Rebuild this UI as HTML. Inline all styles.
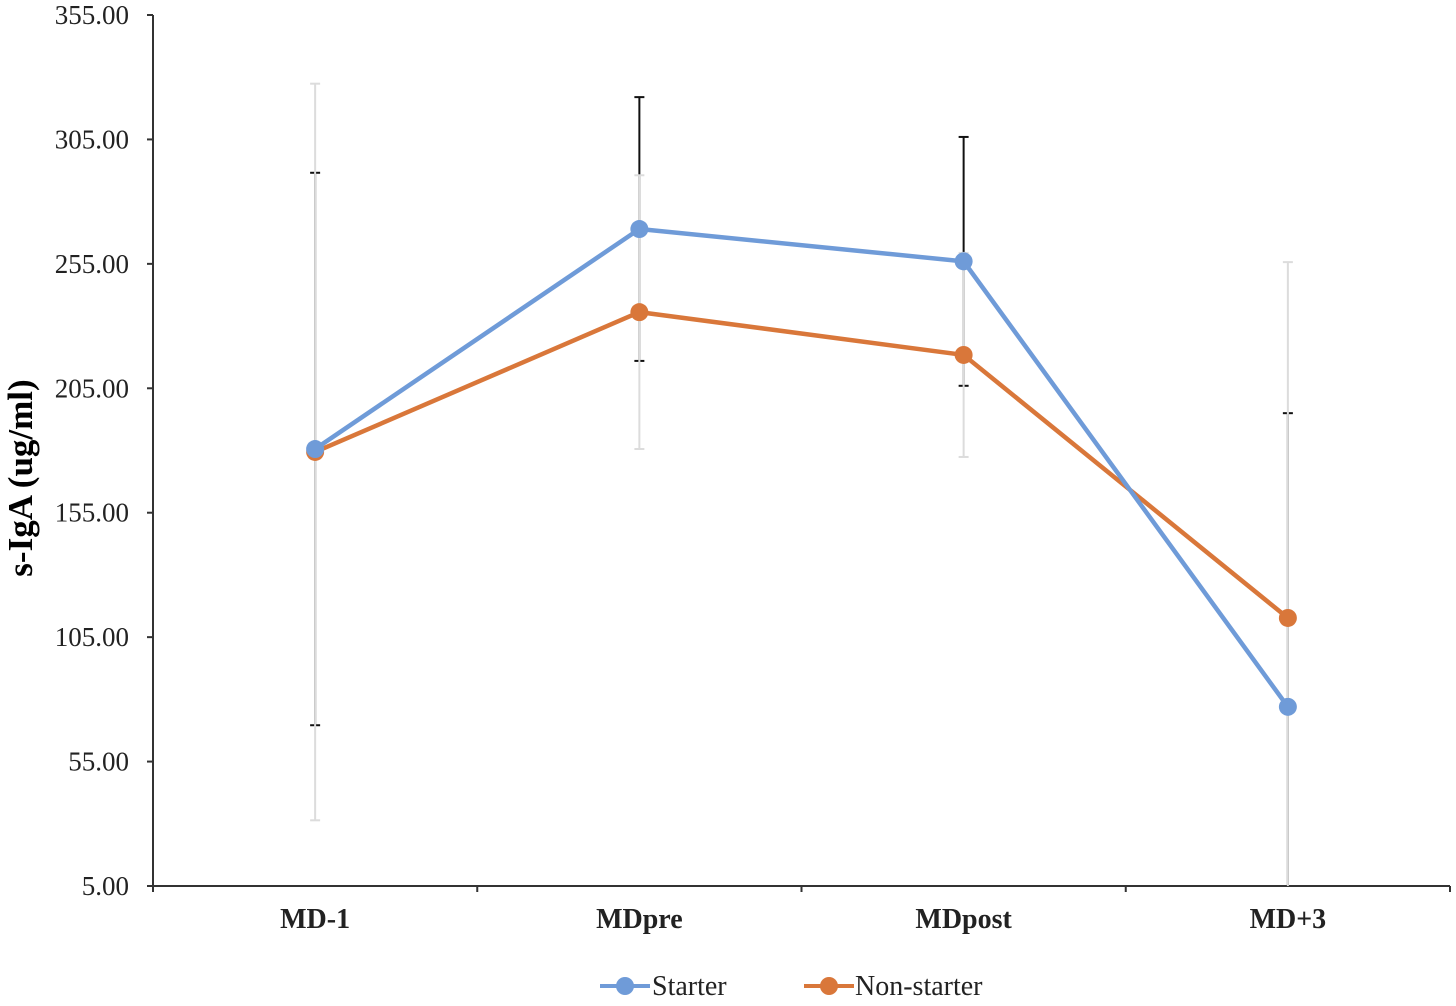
<!DOCTYPE html>
<html><head><meta charset="utf-8"><style>
html,body{margin:0;padding:0;background:#fff;}
svg text{font-family:"Liberation Serif",serif;}
</style></head><body>
<svg id="chart" width="1456" height="1001" viewBox="0 0 1456 1001" xmlns="http://www.w3.org/2000/svg">
<g id="axes"></g>
<g id="errs"></g>
<g id="lines"></g>
<text transform="translate(32,478) rotate(-90)" text-anchor="middle" font-size="35" font-weight="bold" fill="#000">s-IgA (ug/ml)</text>
<g>
 <g>
  <line x1="600" y1="986" x2="650" y2="986" stroke="#6f9bd8" stroke-width="4"/>
  <circle cx="625" cy="986" r="9" fill="#6f9bd8"/>
  <text x="652" y="995" font-size="28" fill="#222">Starter</text>
 </g>
 <g>
  <line x1="804" y1="986" x2="854" y2="986" stroke="#d9773a" stroke-width="4"/>
  <circle cx="829" cy="986" r="9" fill="#d9773a"/>
  <text x="855" y="995" font-size="28" fill="#222">Non-starter</text>
 </g>
</g>
</svg>
<script>
const categories = ["MD-1","MDpre","MDpost","MD+3"];
const starter = [180.6, 269, 256, 77];
const nonStarter = [179.4, 235.6, 218.4, 112.7];
const starterErr = [111, 53, 50, 118];
const nonStarterErr = [148, 55, 41, 143];
const yTicks = [5,55,105,155,205,255,305,355];

const NS="http://www.w3.org/2000/svg";
const X0=153,X1=1450,Y0=886,Y1=15,YMIN=5,YMAX=355;
const bw=(X1-X0)/categories.length;
function xs(i){return X0+bw*(i+0.5);}
function ys(v){v=Math.max(YMIN,Math.min(YMAX,v));return Y0-(v-YMIN)/(YMAX-YMIN)*(Y0-Y1);}
function mk(tag,attrs,parent){const e=document.createElementNS(NS,tag);for(const k in attrs)e.setAttribute(k,attrs[k]);parent.appendChild(e);return e;}
const axes=document.getElementById('axes'),errs=document.getElementById('errs'),lines=document.getElementById('lines');

let a=mk('line',{x1:X0,y1:Y1,x2:X0,y2:Y0,stroke:'#333','stroke-width':2},axes);


a=mk('line',{x1:X0,y1:Y0,x2:X1,y2:Y0,stroke:'#333','stroke-width':2},axes);


yTicks.forEach(t=>{
  mk('line',{x1:X0-6,y1:ys(t),x2:X0,y2:ys(t),stroke:'#333','stroke-width':2},axes);
  const tx=mk('text',{x:X0-24,y:ys(t)+9,'text-anchor':'end','font-size':27,fill:'#222'},axes);
  tx.textContent=t.toFixed(2);
  
  
});
for(let i=0;i<=categories.length;i++){
  mk('line',{x1:X0+bw*i,y1:Y0,x2:X0+bw*i,y2:Y0+6,stroke:'#333','stroke-width':2},axes);
}
categories.forEach((c,i)=>{
  const tx=mk('text',{x:xs(i),y:928,'text-anchor':'middle','font-size':28,'font-weight':'bold',fill:'#222'},axes);
  tx.textContent=c;
  
  
});
function errBar(i,v,e,color,name){
  const g=mk('g',{},errs);
  
  
  const x=xs(i),top=v+e,bot=v-e;
  mk('line',{x1:x,y1:ys(top),x2:x,y2:ys(bot),stroke:color,'stroke-width':2},g);
  if(top<=YMAX) mk('line',{x1:x-5,y1:ys(top),x2:x+5,y2:ys(top),stroke:color,'stroke-width':2},g);
  if(bot>=YMIN) mk('line',{x1:x-5,y1:ys(bot),x2:x+5,y2:ys(bot),stroke:color,'stroke-width':2},g);
}
categories.forEach((c,i)=>errBar(i,starter[i],starterErr[i],'#111','error-bar-starter'));
categories.forEach((c,i)=>errBar(i,nonStarter[i],nonStarterErr[i],'#dcdcdc','error-bar-non-starter'));
function series(vals,color,name){
  const p=mk('polyline',{points:vals.map((v,i)=>xs(i)+','+ys(v)).join(' '),fill:'none',stroke:color,'stroke-width':4.5,'stroke-linejoin':'round'},lines);
  
  
  vals.forEach((v,i)=>{
    const c=mk('circle',{cx:xs(i),cy:ys(v),r:9,fill:color},lines);
    
    
  });
}
series(nonStarter,'#d9773a','non-starter');
series(starter,'#6f9bd8','starter');
</script>
</body></html>
